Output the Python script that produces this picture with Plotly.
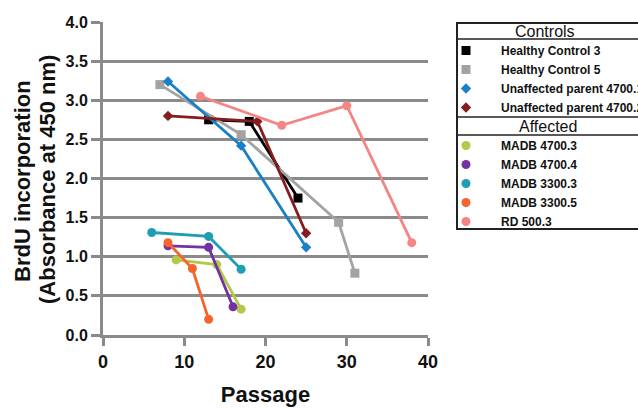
import plotly.graph_objects as go

# ---------------- data ----------------
hc3_x = [13, 18, 24]
hc3_y = [2.75, 2.73, 1.75]
hc5_x = [7, 17, 29, 31]
hc5_y = [3.20, 2.56, 1.44, 0.79]
up1_x = [8, 17, 25]
up1_y = [3.24, 2.42, 1.12]
up2_x = [8, 19, 25]
up2_y = [2.80, 2.73, 1.30]
m47003_x = [9, 14, 17]
m47003_y = [0.96, 0.90, 0.33]
m47004_x = [8, 13, 16]
m47004_y = [1.14, 1.12, 0.36]
m33003_x = [6, 13, 17]
m33003_y = [1.31, 1.26, 0.84]
m33005_x = [8, 11, 13]
m33005_y = [1.18, 0.85, 0.20]
rd5003_x = [12, 22, 30, 38]
rd5003_y = [3.05, 2.68, 2.93, 1.18]

x_ticks = [0, 10, 20, 30, 40]
y_ticks = [0.0, 0.5, 1.0, 1.5, 2.0, 2.5, 3.0, 3.5, 4.0]

controls = [
    ("Healthy Control 3", hc3_x, hc3_y, "#000000", "square", 9),
    ("Healthy Control 5", hc5_x, hc5_y, "#a3a3a3", "square", 9),
    ("Unaffected parent 4700.1", up1_x, up1_y, "#1a80c6", "diamond", 8),
    ("Unaffected parent 4700.2", up2_x, up2_y, "#851c1e", "diamond", 8),
]
affected = [
    ("MADB 4700.3", m47003_x, m47003_y, "#b3c94a", "circle", 9),
    ("MADB 4700.4", m47004_x, m47004_y, "#7431a0", "circle", 9),
    ("MADB 3300.3", m33003_x, m33003_y, "#1f9db3", "circle", 9),
    ("MADB 3300.5", m33005_x, m33005_y, "#f5642a", "circle", 9),
    ("RD 500.3", rd5003_x, rd5003_y, "#f48585", "circle", 9),
]

W, H = 638, 408
L, R, T, B = 103, 210, 22, 73
PW, PH = W - L - R, H - T - B


def px(p):
    """window pixel x -> paper x"""
    return (p - L) / PW


def py(p):
    """window pixel y -> paper y"""
    return 1 - (p - T) / PH


FONT = "Liberation Sans, Arial, sans-serif"
fig = go.Figure()

for legend_id, group in (("legend", controls), ("legend2", affected)):
    for name, xs, ys, col, sym, sz in group:
        fig.add_trace(go.Scatter(
            x=xs, y=ys, mode="lines+markers", name=name, showlegend=False,
            line=dict(color=col, width=2.8),
            marker=dict(color=col, symbol=sym, size=sz),
            cliponaxis=False,
        ))
        fig.add_trace(go.Scatter(
            x=[None], y=[None], mode="markers", name=name, legend=legend_id,
            marker=dict(color=col, symbol=sym, size=sz),
        ))

axis_col = "#8a8a8a"
fig.update_xaxes(
    range=[0, 40], tickvals=x_ticks, showgrid=False, zeroline=False,
    showline=True, linecolor=axis_col, linewidth=3,
    ticks="outside", ticklen=8, tickwidth=3, tickcolor=axis_col,
    tickfont=dict(family=FONT, size=18, color="#111", weight="bold"),
    title=dict(text="Passage", standoff=17,
               font=dict(family=FONT, size=22, color="#111", weight="bold")),
)
fig.update_yaxes(
    range=[0, 4], tickvals=y_ticks, tickformat=".1f", showgrid=True,
    gridcolor=axis_col, gridwidth=3, zeroline=False,
    showline=True, linecolor=axis_col, linewidth=3,
    ticks="outside", ticklen=9, tickwidth=3, tickcolor=axis_col,
    tickfont=dict(family=FONT, size=16, color="#111", weight="bold"),
)

leg_font = dict(family=FONT, size=12, color="#111", weight="bold")
fig.update_layout(
    width=W, height=H,
    margin=dict(l=L, r=R, t=T, b=B, autoexpand=False),
    paper_bgcolor="white", plot_bgcolor="white",
    legend=dict(x=px(431), y=py(36), xanchor="left", yanchor="top",
                itemwidth=60, font=leg_font, bgcolor="rgba(0,0,0,0)",
                tracegroupgap=0, itemclick=False),
    legend2=dict(x=px(431), y=py(131), xanchor="left", yanchor="top",
                 itemwidth=60, font=leg_font, bgcolor="rgba(0,0,0,0)",
                 tracegroupgap=0, itemclick=False),
    showlegend=True,
)

# y-axis title (two lines)
fig.add_annotation(text="BrdU incorporation", x=px(22), y=py(181), xref="paper", yref="paper",
                   textangle=-90, showarrow=False, xanchor="center", yanchor="middle",
                   font=dict(family=FONT, size=22, color="#111", weight="bold"))
fig.add_annotation(text="(Absorbance at 450 nm)", x=px(47), y=py(180), xref="paper", yref="paper",
                   textangle=-90, showarrow=False, xanchor="center", yanchor="middle",
                   font=dict(family=FONT, size=22, color="#111", weight="bold"))

# legend frame and headers
box_col = "#222"
fig.add_shape(type="rect", xref="paper", yref="paper", x0=px(457), x1=px(660),
              y0=py(23), y1=py(229), line=dict(color=box_col, width=2))
for yy in (39, 117, 135):
    fig.add_shape(type="line", xref="paper", yref="paper", x0=px(457), x1=px(660),
                  y0=py(yy), y1=py(yy), line=dict(color=box_col, width=1.5))
fig.add_annotation(text="Controls", x=px(545), y=py(31), xref="paper", yref="paper",
                   showarrow=False, xanchor="center", yanchor="middle",
                   font=dict(family=FONT, size=16, color="#111"))
fig.add_annotation(text="Affected", x=px(548), y=py(126), xref="paper", yref="paper",
                   showarrow=False, xanchor="center", yanchor="middle",
                   font=dict(family=FONT, size=16, color="#111"))

# remove the browser's default 8px body margin so the figure fills the window
fig.write_html("out.html",
               config={"displayModeBar": False, "staticPlot": False},
               post_script="document.body.style.margin='0';document.body.style.overflow='hidden';")
